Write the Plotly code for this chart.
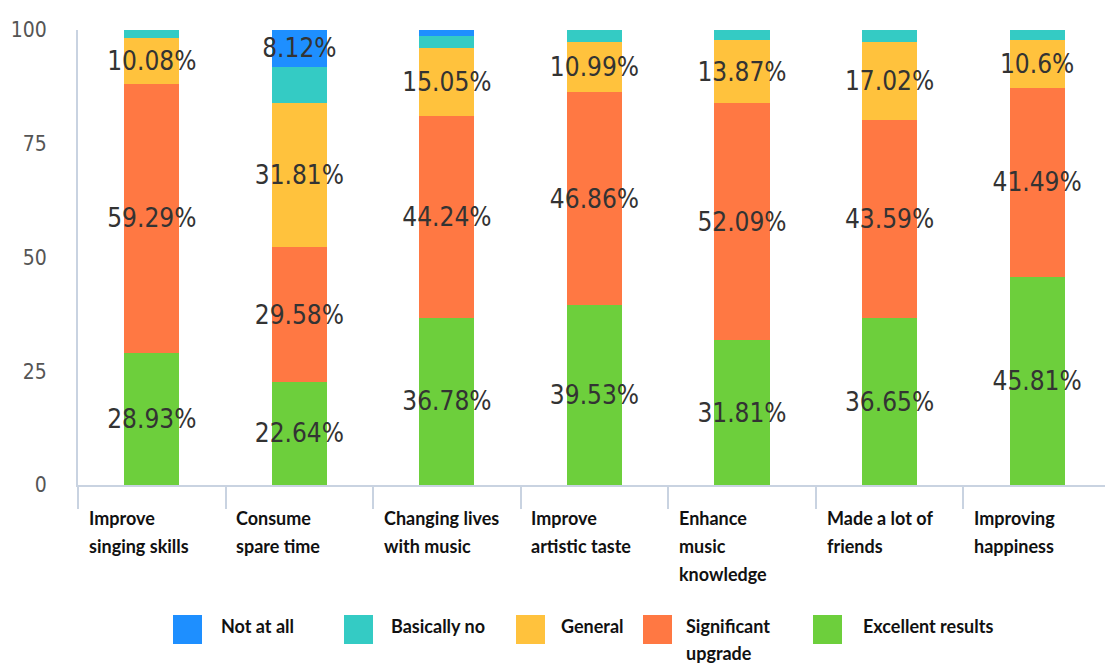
import plotly.graph_objects as go

categories = ["Improve singing skills", "Consume spare time", "Changing lives with music",
              "Improve artistic taste", "Enhance music knowledge", "Made a lot of friends",
              "Improving happiness"]
category_lines = [["Improve", "singing skills"], ["Consume", "spare time"], ["Changing lives", "with music"],
                  ["Improve", "artistic taste"], ["Enhance", "music", "knowledge"], ["Made a lot of", "friends"],
                  ["Improving", "happiness"]]

excellent = [28.93, 22.64, 36.78, 39.53, 31.81, 36.65, 45.81]
significant = [59.29, 29.58, 44.24, 46.86, 52.09, 43.59, 41.49]
general = [10.08, 31.81, 15.05, 10.99, 13.87, 17.02, 10.6]
basically_no = [1.70, 7.85, 2.63, 2.62, 2.23, 2.74, 2.10]
not_at_all = [0, 8.12, 1.30, 0, 0, 0, 0]
not_at_all_labelled = [False, True, False, False, False, False, False]

series_names = ["Excellent results", "Significant upgrade", "General", "Basically no", "Not at all"]
legend_lines = {"Significant upgrade": ["Significant", "upgrade"]}
series_values = [excellent, significant, general, basically_no, not_at_all]
series_colors = ["#6DCF3C", "#FF7843", "#FFC23D", "#34CBC4", "#1E8FFF"]
series_labelled = [[True] * 7, [True] * 7, [True] * 7, [False] * 7, not_at_all_labelled]

LABEL_FONT = dict(family="DejaVu Sans Condensed, Liberation Sans Narrow, DejaVu Sans", size=26, color="#333333")
BOLD_FONT = dict(family="Lato, Open Sans", size=18, color="#111111", weight="bold")
AXIS_COLOR = "#C9D3E1"

W, H = 1105, 668
ML, MR, MT, MB = 78, 0, 30, 183
PW, PH = W - ML - MR, H - MT - MB

fig = go.Figure()
for name, vals, color, show in zip(series_names, series_values, series_colors, series_labelled):
    fig.add_trace(go.Bar(
        x=categories, y=vals, name=name, marker=dict(color=color, line=dict(width=0)),
        text=[f"{v:g}%" if s else "" for v, s in zip(vals, show)],
        textposition="inside", insidetextanchor="middle", textangle=0,
        constraintext="none", textfont=LABEL_FONT, width=0.373, showlegend=False,
        hoverinfo="x+y+name",
    ))

# category labels (left aligned, below axis)
for cat, lines in zip(categories, category_lines):
    for i, line in enumerate(lines):
        fig.add_annotation(
            x=cat, xref="x", y=0, yref="paper", text=line, showarrow=False,
            xanchor="left", yanchor="top", align="left", xshift=-65, yshift=-20 - 28 * i,
            font=BOLD_FONT,
        )

# legend drawn as swatches + text (order: Not at all ... Excellent results)
legend_square_left = [173, 344, 516, 643, 813]
legend_text_left = [220, 390, 560, 685, 862]
legend_top, legend_bottom = 615, 644
def px_x(p):
    return (p - ML) / PW
def px_y(p):
    return (H - MB - p) / PH

for j, idx in enumerate(reversed(range(len(series_names)))):
    name = series_names[idx]
    fig.add_shape(type="rect", xref="paper", yref="paper",
                  x0=px_x(legend_square_left[j]), x1=px_x(legend_square_left[j] + 29),
                  y0=px_y(legend_bottom), y1=px_y(legend_top),
                  fillcolor=series_colors[idx], line=dict(width=0))
    for i, line in enumerate(legend_lines.get(name, [name])):
        fig.add_annotation(x=px_x(legend_text_left[j]), y=px_y(legend_top - 2 + 27 * i),
                           xref="paper", yref="paper", text=line, showarrow=False,
                           xanchor="left", yanchor="top", align="left", xshift=-1, font=BOLD_FONT)

fig.update_layout(
    width=W, height=H,
    margin=dict(l=ML, r=MR, t=MT, b=MB),
    paper_bgcolor="white", plot_bgcolor="white",
    barmode="stack", bargap=0.627, showlegend=False,
    xaxis=dict(type="category", range=[-0.5, 6.46], showline=True, linecolor=AXIS_COLOR, linewidth=2,
               ticks="outside", tickson="boundaries", ticklen=22, tickcolor=AXIS_COLOR, tickwidth=1.5,
               showticklabels=False, showgrid=False, zeroline=False),
    yaxis=dict(range=[0, 100], tickvals=[0, 25, 50, 75, 100], showline=True, linecolor=AXIS_COLOR,
               linewidth=2, ticks="", showgrid=False, zeroline=False, ticklabelstandoff=25,
               tickfont=dict(family="DejaVu Sans Condensed, Liberation Sans Narrow, DejaVu Sans",
                             size=21, color="#555555")),
)

fig.write_html("out.html")
